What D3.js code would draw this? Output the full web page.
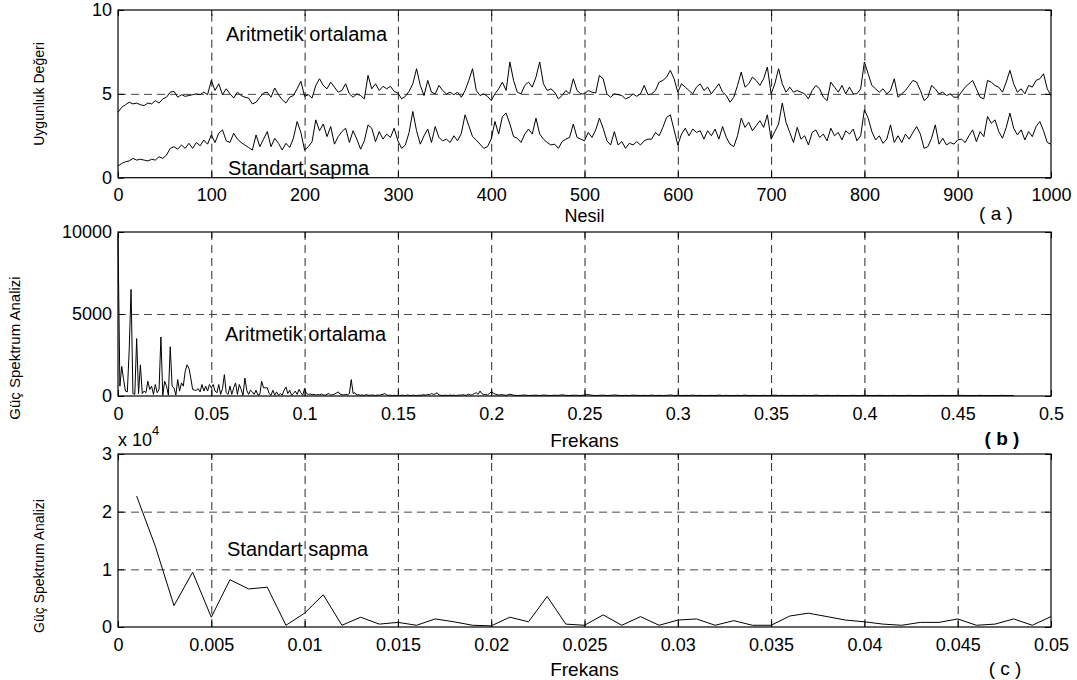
<!DOCTYPE html>
<html>
<head>
<meta charset="utf-8">
<script src="https://cdnjs.cloudflare.com/ajax/libs/d3/7.8.5/d3.min.js"></script>
<style>
  body { margin: 0; background: #fff; }
  svg { display: block; font-family: "Liberation Sans", Arial, Helvetica, sans-serif; }
</style>
</head>
<body>
<div id="chart"></div>
<script>
// (a) fitness per generation, sampled every 4 generations
const generations = d3.range(0, 1001, 4);

const meanFitness = [
  3.9,4.2,4.35,4.5,4.4,4.45,4.35,4.3,4.45,4.4,4.6,4.45,4.7,4.8,5.1,5.15,4.8,4.95,4.85,4.9,4.95,5.0,4.95,5.1,4.95,
  5.8,5.2,5.6,4.95,5.3,5.0,4.75,5.1,4.9,4.8,4.75,4.4,4.5,4.8,5.05,5.1,4.8,5.35,4.95,4.65,4.45,4.8,4.9,5.3,5.75,
  4.85,4.95,4.75,5.5,5.9,5.5,5.3,5.7,5.4,5.1,5.2,5.6,5.0,4.8,5.0,4.9,4.7,6.1,5.3,5.6,5.2,5.45,5.3,5.45,5.15,
  5.05,4.7,4.85,5.15,5.6,6.5,5.5,4.9,5.8,5.1,5.0,5.5,5.2,5.0,5.1,4.95,5.1,4.8,5.2,5.8,6.5,5.2,4.9,5.0,4.85,
  4.6,5.0,5.3,5.7,5.2,6.9,5.8,5.1,5.0,5.5,5.7,5.4,6.0,6.9,5.6,5.2,5.3,5.1,4.7,4.9,5.2,5.0,5.9,5.2,5.0,
  5.0,5.2,5.1,5.05,6.1,5.9,5.0,4.8,5.0,4.95,4.9,4.7,4.8,5.0,4.85,5.0,5.5,4.95,5.0,5.2,5.7,5.8,6.0,6.4,5.9,
  5.1,5.6,5.4,5.2,5.0,5.4,5.6,5.2,5.4,5.0,5.3,5.6,5.1,4.9,4.5,4.8,5.5,6.3,5.4,5.6,6.0,5.8,5.5,5.9,6.6,
  5.0,5.6,6.5,5.6,5.1,5.4,5.1,5.2,5.1,5.0,4.7,5.2,5.5,5.3,4.8,4.6,5.7,5.4,5.1,5.5,5.0,5.4,5.0,5.0,5.3,
  6.9,6.2,5.5,5.3,5.1,5.3,5.0,5.2,5.9,4.8,5.0,5.2,5.5,5.8,5.7,5.2,4.6,4.8,5.5,5.3,5.0,5.1,4.9,5.0,4.8,
  4.8,5.1,5.4,5.6,5.8,5.3,4.8,4.7,5.8,5.7,5.5,5.4,5.1,5.7,6.4,5.6,5.1,5.3,5.0,5.5,5.4,5.8,5.9,6.2,5.3,4.9
];

const stdFitness = [
  0.7,0.85,0.95,1.0,1.15,1.05,1.1,1.05,1.0,1.1,1.05,1.25,1.15,1.35,1.75,1.85,1.7,1.95,1.75,2.05,1.75,2.1,1.9,2.25,2.0,
  2.55,2.1,2.65,2.85,2.2,2.1,2.65,2.3,2.1,1.95,1.8,1.65,2.55,1.85,2.3,2.75,1.85,2.35,2.05,1.65,2.05,1.8,2.35,3.35,2.7,
  1.65,1.85,2.15,3.45,2.8,3.2,2.45,3.05,2.0,2.45,2.75,2.95,2.1,2.8,2.3,1.7,2.2,3.15,2.95,2.15,2.75,2.3,2.6,2.4,2.95,
  2.2,1.75,1.95,2.7,3.95,2.8,2.0,2.5,2.9,2.1,3.05,2.4,2.2,2.3,2.1,2.5,2.2,2.65,3.75,3.1,2.45,2.25,2.0,1.75,1.85,
  2.3,3.35,2.6,3.65,3.85,3.2,2.45,2.35,2.1,2.6,2.9,2.6,3.55,2.6,2.3,2.1,1.95,2.0,1.75,2.15,2.3,2.4,3.2,2.4,2.3,
  2.2,2.7,2.4,2.85,3.55,2.95,2.2,1.95,2.75,1.95,2.15,1.75,2.05,1.95,2.15,1.95,2.2,2.3,2.3,2.7,2.5,3.0,3.6,3.75,2.85,
  1.95,2.6,2.95,2.5,2.9,2.7,2.8,2.3,2.8,2.5,2.9,2.3,3.05,2.4,2.0,1.85,2.5,3.55,3.0,3.3,2.8,3.1,3.4,3.0,3.75,
  2.3,2.75,3.2,4.45,3.3,2.7,2.1,3.0,2.3,2.5,1.95,2.7,2.85,2.4,2.6,2.2,2.95,2.5,2.7,2.25,2.8,2.6,2.9,2.2,2.5,
  4.05,3.55,2.75,2.25,2.5,2.05,2.3,3.15,2.1,2.5,2.1,2.6,2.3,2.7,3.05,2.6,1.75,1.85,2.35,3.15,2.0,2.35,1.95,2.1,2.0,
  2.25,2.3,2.1,2.5,2.85,2.15,2.75,2.45,3.65,3.25,3.45,2.75,2.35,3.0,3.85,2.95,2.55,2.85,2.25,2.75,2.45,3.05,3.35,2.8,2.1,2.0
];

// (b) power spectrum of the mean, f = 0 .. 0.2 step 0.001
const meanSpecHead = [
  9800,600,1800,1000,300,250,2800,6500,150,100,
  3500,150,1900,150,300,200,900,400,600,100,
  700,200,400,3600,50,900,600,50,3000,600,
  500,50,1000,300,800,600,1500,1900,1700,1100,
  400,350,350,450,250,700,300,600,300,700,
  500,700,300,200,700,100,450,1300,200,100,
  600,100,500,800,100,700,400,50,1100,350,
  100,350,250,100,350,50,100,900,500,500,
  500,150,50,350,50,250,50,150,50,350,
  550,150,350,50,150,300,100,400,200,50,
  450,150,100,120,80,100,60,90,70,120,
  60,50,100,150,60,80,120,180,250,120,
  80,60,100,80,150,1000,150,200,60,80,
  50,60,40,80,50,40,60,50,30,60,
  40,80,100,150,60,40,50,30,40,30,
  40,30,50,40,30,60,40,30,50,40,
  30,50,40,60,80,50,100,80,150,100,
  120,200,60,40,30,50,40,30,60,40,
  50,30,40,60,50,80,40,60,120,50,
  80,150,200,100,300,150,80,100,60,150,
  250
];
// f = 0.202 .. 0.5 step 0.002
const meanSpecTail = [
  120,60,80,40,110,50,30,40,60,30, 40,50,30,60,40,30,50,40,70,40,
  30,50,40,30,60,90,40,30,40,50, 30,40,60,40,30,40,30,50,40,30,
  40,30,50,30,40,30,40,60,30,40, 30,40,30,50,30,40,30,30,40,30,
  50,30,40,30,30,40,30,50,30,40, 30,30,40,30,30,50,30,40,30,30,
  40,30,30,40,30,30,50,30,30,40, 30,30,40,30,30,30,40,30,30,40,
  30,30,30,40,30,30,30,40,30,30, 30,40,30,30,30,30,40,30,30,30,
  40,30,30,30,30,40,30,30,30,30, 40,30,30,30,30,30,40,30,30,30
];
const meanSpecFreq = meanSpecHead.map((v, i) => i / 1000)
  .concat(meanSpecTail.map((v, j) => (202 + 2 * j) / 1000));
const meanSpec = meanSpecHead.concat(meanSpecTail);

// (c) power spectrum of the std deviation (x 10^4), f = 0.001 .. 0.05
const stdSpecFreq = d3.range(1, 51).map(i => i / 1000);
const stdSpec = [
  2.27,1.40,0.37,0.95,0.17,0.82,0.66,0.69,0.03,0.24,
  0.56,0.03,0.17,0.05,0.08,0.03,0.14,0.09,0.03,0.02,
  0.17,0.09,0.53,0.05,0.03,0.21,0.03,0.18,0.03,0.12,
  0.14,0.03,0.11,0.03,0.03,0.19,0.24,0.18,0.12,0.09,
  0.05,0.03,0.08,0.08,0.14,0.03,0.05,0.14,0.03,0.18
];

const ticksA_x = [0,100,200,300,400,500,600,700,800,900,1000];
const ticksA_y = [0,5,10];
const ticksB_x = [0,0.05,0.1,0.15,0.2,0.25,0.3,0.35,0.4,0.45,0.5];
const ticksB_y = [0,5000,10000];
const ticksC_x = [0,0.005,0.01,0.015,0.02,0.025,0.03,0.035,0.04,0.045,0.05];
const ticksC_y = [0,1,2,3];

const W = 1077, H = 680;
const LEFT = 118, RIGHT = 1051;
const TICK = 6;

const svg = d3.select('#chart').append('svg')
  .attr('width', W)
  .attr('height', H);

const drawPanel = (opt) => {
  const x = d3.scaleLinear().domain(opt.xDomain).range([LEFT, RIGHT]);
  const y = d3.scaleLinear().domain(opt.yDomain).range([opt.bottom, opt.top]);
  const h = opt.bottom - opt.top;
  const g = svg.append('g').attr('class', 'panel');

  // dashed grid
  g.append('g')
    .attr('transform', `translate(0,${opt.bottom})`)
    .call(d3.axisBottom(x).tickValues(opt.xTicks.slice(1, -1)).tickSize(-h).tickFormat(''))
    .call(a => a.select('.domain').remove())
    .selectAll('line')
    .attr('stroke', '#111').attr('stroke-width', 0.9).attr('stroke-dasharray', '8,5');
  g.append('g')
    .attr('transform', `translate(${LEFT},0)`)
    .call(d3.axisLeft(y).tickValues(opt.yTicks.slice(1, -1)).tickSize(-(RIGHT - LEFT)).tickFormat(''))
    .call(a => a.select('.domain').remove())
    .selectAll('line')
    .attr('stroke', '#333').attr('stroke-width', 0.9).attr('stroke-dasharray', '8,5');

  // data lines
  opt.series.forEach(s => {
    g.append('path')
      .datum(s.xs.map((v, i) => [v, s.ys[i]]))
      .attr('fill', 'none')
      .attr('stroke', '#000')
      .attr('stroke-width', 1)
      .attr('stroke-linejoin', 'round')
      .attr('d', d3.line().x(d => x(d[0])).y(d => y(d[1])));
  });

  // frame
  g.append('rect')
    .attr('x', LEFT).attr('y', opt.top)
    .attr('width', RIGHT - LEFT).attr('height', h)
    .attr('fill', 'none').attr('stroke', '#000').attr('stroke-width', 1.2);

  // inward ticks + labels
  const bottomAxis = g.append('g')
    .attr('transform', `translate(0,${opt.bottom})`)
    .call(d3.axisBottom(x).tickValues(opt.xTicks).tickSize(-TICK).tickPadding(11).tickFormat(d => String(d)));
  const leftAxis = g.append('g')
    .attr('transform', `translate(${LEFT},0)`)
    .call(d3.axisLeft(y).tickValues(opt.yTicks).tickSize(-TICK).tickPadding(6).tickFormat(d => String(d)));
  g.append('g')
    .attr('transform', `translate(0,${opt.top})`)
    .call(d3.axisTop(x).tickValues(opt.xTicks).tickSize(-TICK).tickFormat(''));
  g.append('g')
    .attr('transform', `translate(${RIGHT},0)`)
    .call(d3.axisRight(y).tickValues(opt.yTicks).tickSize(-TICK).tickFormat(''));

  g.selectAll('.domain').remove();
  g.selectAll('.tick line:not([stroke-dasharray])').attr('stroke', '#000');
  [bottomAxis, leftAxis].forEach(a => a.selectAll('text')
    .attr('font-size', 18)
    .attr('fill', '#000')
    .attr('font-family', '"Liberation Sans", Arial, sans-serif'));

  return { x, y, g };
};

const addText = (txt, px, py, size, opts = {}) => {
  const t = svg.append('text')
    .attr('x', px).attr('y', py)
    .attr('font-size', size)
    .attr('text-anchor', opts.anchor || 'start')
    .attr('font-weight', opts.bold ? 'bold' : 'normal')
    .attr('fill', '#000')
    .text(txt);
  if (opts.rotate) t.attr('transform', `rotate(-90,${px},${py})`);
  return t;
};

// (a)
drawPanel({
  top: 10, bottom: 177.7,
  xDomain: [0, 1000], yDomain: [0, 10],
  xTicks: ticksA_x, yTicks: ticksA_y,
  series: [
    { xs: generations, ys: meanFitness },
    { xs: generations, ys: stdFitness }
  ]
});
addText('Aritmetik ortalama', 226, 41, 20);
addText('Standart sapma', 228, 175, 20);
addText('Nesil', (LEFT + RIGHT) / 2, 222, 18, { anchor: 'middle' });
addText('( a )', 996, 220, 19, { anchor: 'middle' });
addText('Uygunluk Değeri', 44, 94, 14, { anchor: 'middle', rotate: true });

// (b)
drawPanel({
  top: 232, bottom: 396,
  xDomain: [0, 0.5], yDomain: [0, 10000],
  xTicks: ticksB_x, yTicks: ticksB_y,
  series: [{ xs: meanSpecFreq, ys: meanSpec }]
});
addText('Aritmetik ortalama', 225, 341, 20);
addText('Frekans', (LEFT + RIGHT) / 2, 447, 19, { anchor: 'middle' });
addText('( b )', 1002, 445, 19, { anchor: 'middle', bold: true });
addText('Güç  Spektrum Analizi', 20, 348, 15, { anchor: 'middle', rotate: true });

// (c)
const exp = svg.append('text').attr('x', LEFT).attr('y', 446).attr('font-size', 18).attr('fill', '#000');
exp.append('tspan').text('x 10');
exp.append('tspan').attr('font-size', 13).attr('dy', -11).text('4');

drawPanel({
  top: 454, bottom: 627,
  xDomain: [0, 0.05], yDomain: [0, 3],
  xTicks: ticksC_x, yTicks: ticksC_y,
  series: [{ xs: stdSpecFreq, ys: stdSpec }]
});
addText('Standart sapma', 227, 556, 20);
addText('Frekans', (LEFT + RIGHT) / 2, 676, 19, { anchor: 'middle' });
addText('( c )', 1005, 675, 19, { anchor: 'middle' });
addText('Güç  Spektrum Analizi', 44, 566, 14, { anchor: 'middle', rotate: true });
</script>
</body>
</html>
